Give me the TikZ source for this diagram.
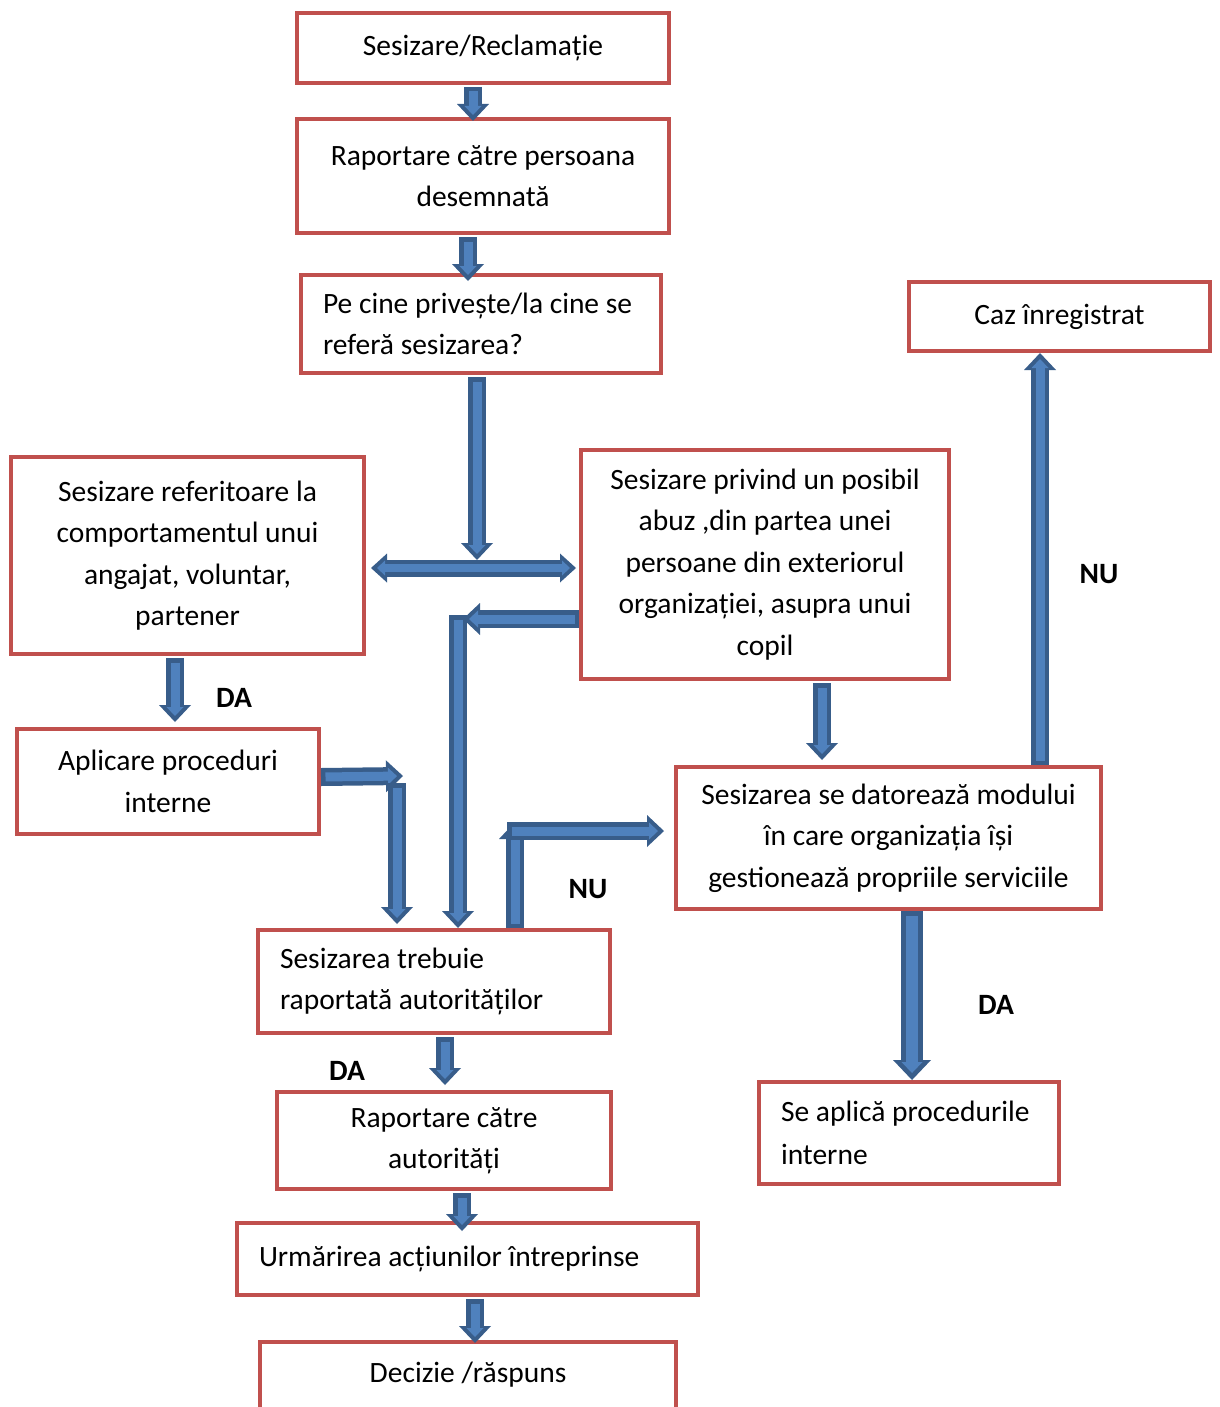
\documentclass[tikz,border=0pt]{standalone}
\usepackage{fontspec}
\setmainfont{Carlito}
\definecolor{boxred}{RGB}{192,80,77}
\definecolor{arrowfill}{RGB}{79,129,189}
\definecolor{arrowedge}{RGB}{56,93,138}
\usetikzlibrary{arrows.meta,positioning,calc}

\begin{document}
\begin{tikzpicture}[x=1pt, y=-1pt,
  box/.style={draw=boxred, line width=4pt, fill=white, inner sep=0pt, align=center, font=\fontsize{29.5}{41.5}\selectfont},
  boxl/.style={box, align=flush left, inner xsep=22pt},
  lbl/.style={font=\fontsize{29.5}{32}\selectfont\bfseries},
  blk/.style={draw=arrowedge, line width=18pt, -{Triangle[width=32pt,length=17pt,line width=0pt]},
    postaction={draw=arrowfill, line width=9pt, -{Triangle[width=17pt,length=9pt,line width=0pt]}, shorten >=6pt, shorten <=4.5pt}},
  blkw/.style={draw=arrowedge, line width=22pt, -{Triangle[width=38pt,length=20pt,line width=0pt]},
    postaction={draw=arrowfill, line width=12pt, -{Triangle[width=21pt,length=11pt,line width=0pt]}, shorten >=7pt, shorten <=5pt}},
  blkboth/.style={draw=arrowedge, line width=17pt, {Triangle[width=29pt,length=16pt,line width=0pt]}-{Triangle[width=29pt,length=16pt,line width=0pt]},
    postaction={draw=arrowfill, line width=8pt, {Triangle[width=15pt,length=8pt,line width=0pt]}-{Triangle[width=15pt,length=8pt,line width=0pt]}, shorten >=6pt, shorten <=6pt}}]
  \useasboundingbox (0,0) rectangle (1219,1407);

  %--- Left column ---
  \node[box, minimum width=372pt, minimum height=70pt] (sesizare) at (483,48) {Sesizare/Reclamație};
  \node[box, minimum width=372pt, minimum height=114pt] (raport) at (483,176) {Raportare către persoana\\desemnată};
  \node[boxl, minimum width=360pt, minimum height=98pt, text width=316pt] (privire) at (481,324) {Pe cine privește/la cine se\\referă sesizarea?};

  % Two kinds of complaint
  \node[box, minimum width=353pt, minimum height=197pt] (comport) at (187.5,555.5) {Sesizare referitoare la\\comportamentul unui\\angajat, voluntar,\\partener};
  \node[box, minimum width=368pt, minimum height=229pt] (abuz) at (765,564.5) {Sesizare privind un posibil\\abuz ,din partea unei\\persoane din exteriorul\\organizației, asupra unui\\copil};
  \node[box, minimum width=302pt, minimum height=105pt] (aplic) at (168,781.5) {Aplicare proceduri\\interne};

  %--- Right column ---
  \node[box, minimum width=301pt, minimum height=69pt] (caz) at (1059.5,316.5) {Caz înregistrat};
  \node[box, minimum width=425pt, minimum height=142pt] (modul) at (888.5,838) {Sesizarea se datorează modului\\în care organizația își\\gestionează propriile serviciile};
  \node[boxl, minimum width=300pt, minimum height=102pt, text width=256pt] (procint) at (909,1133) {Se aplică procedurile\\[2pt]interne};

  %--- Authorities ---
  \node[boxl, minimum width=352pt, minimum height=103pt, text width=308pt] (trebuie) at (434,981.5) {Sesizarea trebuie\\raportată autorităților};
  \node[box, minimum width=334pt, minimum height=97pt] (raportaut) at (444,1140.5) {Raportare către\\autorități};
  \node[boxl, minimum width=461pt, minimum height=72pt, text width=417pt] (urmarire) at (467.5,1259) {Urmărirea acțiunilor întreprinse};
  \node[box, anchor=north, minimum width=416pt, inner ysep=0pt, text height=40pt, text depth=70pt] (decizie) at (468,1340) {Decizie /răspuns};

  % Labels
  \node[lbl] (da1) at (234,698) {DA};
  \node[lbl] (nu1) at (1099,574) {NU};
  \node[lbl] (nu2) at (588,889) {NU};
  \node[lbl] (da2) at (996,1005) {DA};
  \node[lbl] (da3) at (347,1071) {DA};

  % Bend points
  \coordinate (split) at (477,560);
  \coordinate (dbl) at (0,568);
  \coordinate (kleft) at (463,619);
  \coordinate (kdown) at (458,615);
  \coordinate (kright) at (403,776);
  \coordinate (kdown2) at (397,783);
  \coordinate (kup) at (515,822);
  \coordinate (kelbow) at (507,831);

  %--- Arrows ---
  \draw[blk] ([xshift=-10pt,yshift=-2pt]sesizare.south) -- ([xshift=-10pt,yshift=-4pt]raport.north);
  \draw[blk] ([xshift=-15pt,yshift=-2pt]raport.south) -- ([xshift=-13pt,yshift=-8pt]privire.north);
  \draw[blk] ([xshift=-4pt,yshift=-2pt]privire.south) -- (split);
  \draw[blkboth] ($(comport.east |- dbl)+(5,0)$) -- ($(abuz.west |- dbl)+(-3,0)$);
  \draw[blk] ([xshift=-12.5pt,yshift=-2pt]comport.south) -- ([xshift=7pt,yshift=5pt]aplic.north);

  \draw[blk] (kdown) -- (kdown |- trebuie.north);
  \draw[blk] (abuz.west |- kleft) -- (kleft);

  \draw[blk] ([yshift=-1pt]aplic.east |- kright) -- (kright);
  \draw[blk] (kdown2) -- ($(kdown2 |- trebuie.north)+(0,-4)$);

  \draw[blk] (trebuie.north -| kup) -- (kup);
  \draw[blk] (kelbow) -- ($(modul.west |- kelbow)+(-10,0)$);

  \draw[blk] ([xshift=57pt,yshift=-2pt]abuz.south) -- ($([xshift=57pt]abuz.south |- modul.north)+(0,-5)$);
  \draw[blk] ([xshift=151.5pt]modul.north) -- ([xshift=151.5pt]modul.north |- caz.south);
  \draw[blkw] ([xshift=23.5pt]modul.south) -- ([xshift=23.5pt]modul.south |- procint.north);

  \draw[blk] ([xshift=11pt,yshift=-2pt]trebuie.south) -- ([xshift=1pt,yshift=5pt]raportaut.north);
  \draw[blk] ([xshift=18pt,yshift=-2pt]raportaut.south) -- ([xshift=-5.5pt,yshift=-10pt]urmarire.north);
  \draw[blk] ([xshift=7.5pt,yshift=-2pt]urmarire.south) -- ([xshift=7pt,yshift=-3pt]decizie.north);
\end{tikzpicture}
\end{document}
